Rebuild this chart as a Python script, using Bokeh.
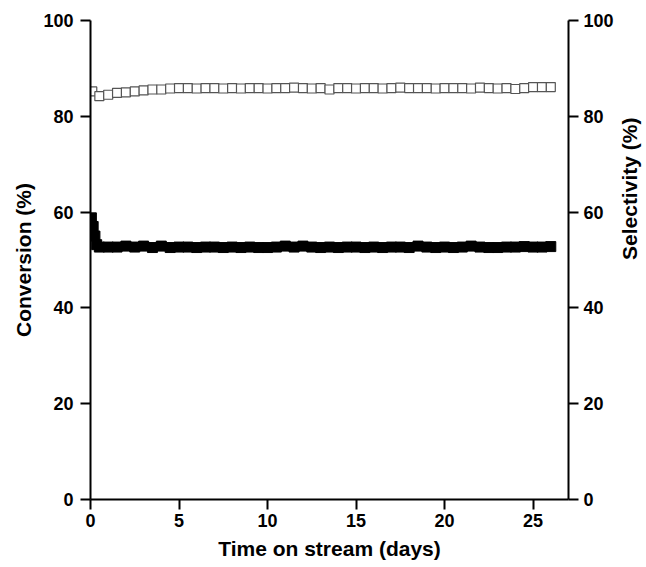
import math
from bokeh.plotting import figure
from bokeh.models import Range1d, LinearAxis, FixedTicker
from bokeh.embed import file_html
from bokeh.resources import INLINE

# ---- data ----
sel_time = [0.1] + [0.5 * i for i in range(1, 53)]
selectivity = [85.2, 84.2, 84.5, 84.9, 85.0, 85.2, 85.4, 85.6, 85.6, 85.8,
               85.9, 85.9, 85.8, 85.9, 85.9, 85.8, 85.9, 85.8, 85.9, 85.9,
               85.8, 85.9, 85.9, 86.0, 85.9, 85.8, 85.9, 85.6, 85.9, 85.9,
               85.8, 85.9, 85.9, 85.8, 85.9, 86.0, 85.9, 85.9, 85.9, 85.8,
               85.9, 85.9, 85.9, 85.8, 86.0, 85.9, 85.8, 85.9, 85.7, 85.9,
               86.1, 86.1, 86.1]

conv_time = [0.05, 0.15, 0.25, 0.35] + [0.5 * i for i in range(1, 53)]
conversion = [58.8, 57.0, 55.0, 53.2,
              52.7, 52.7, 52.7, 52.9, 52.7, 52.9, 52.6, 52.9, 52.6, 52.7,
              52.7, 52.6, 52.7, 52.7, 52.6, 52.7, 52.6, 52.7, 52.6, 52.6,
              52.7, 52.9, 52.7, 52.9, 52.7, 52.6, 52.7, 52.6, 52.7, 52.7,
              52.6, 52.7, 52.6, 52.7, 52.7, 52.6, 52.9, 52.7, 52.6, 52.7,
              52.6, 52.7, 52.9, 52.7, 52.6, 52.6, 52.7, 52.7, 52.8, 52.7,
              52.7, 52.8]

x_ticks = [0, 5, 10, 15, 20, 25]
y_ticks = [0, 20, 40, 60, 80, 100]

FONT = "Liberation Sans"

p = figure(frame_width=478, frame_height=479,
           min_border_left=90, min_border_top=20, min_border_right=78, min_border_bottom=60,
           x_range=Range1d(0, 27), y_range=Range1d(0, 100),
           output_backend="svg", toolbar_location=None, tools="")
p.extra_y_ranges = {"sel": Range1d(0, 100)}
p.outline_line_color = None
p.xgrid.visible = False
p.ygrid.visible = False
p.background_fill_color = "white"
p.border_fill_color = "white"

right = LinearAxis(y_range_name="sel", axis_label="Selectivity (%)")
p.add_layout(right, "right")

p.xaxis.axis_label = "Time on stream (days)"
p.yaxis[0].axis_label = "Conversion (%)"
p.xaxis.ticker = FixedTicker(ticks=x_ticks)
for ax in p.yaxis:
    ax.ticker = FixedTicker(ticks=y_ticks)

for ax in list(p.xaxis) + list(p.yaxis):
    ax.axis_line_width = 2
    ax.axis_line_color = "black"
    ax.major_tick_line_width = 2
    ax.major_tick_line_color = "black"
    ax.major_tick_out = 10
    ax.major_tick_in = 0
    ax.minor_tick_line_color = None
    ax.major_label_text_font = FONT
    ax.major_label_text_font_style = "bold"
    ax.major_label_text_font_size = "18px"
    ax.major_label_text_color = "black"
    ax.axis_label_text_font = FONT
    ax.axis_label_text_font_style = "bold"
    ax.axis_label_text_font_size = "21px"
    ax.axis_label_text_color = "black"

p.xaxis.major_label_standoff = 4
p.xaxis.axis_label_standoff = 7
p.yaxis[0].major_label_standoff = 7
p.yaxis[0].axis_label_standoff = 5
right.major_label_standoff = 5
right.axis_label_standoff = 13
right.axis_label_orientation = math.pi / 2

p.scatter(conv_time, conversion, marker="square", size=10,
          fill_color="black", line_color="black", line_width=1)
p.scatter(sel_time, selectivity, marker="square", size=9, y_range_name="sel",
          fill_color="white", line_color="#555555", line_width=1.2)

open("out.html", "w").write(file_html(p, INLINE))
